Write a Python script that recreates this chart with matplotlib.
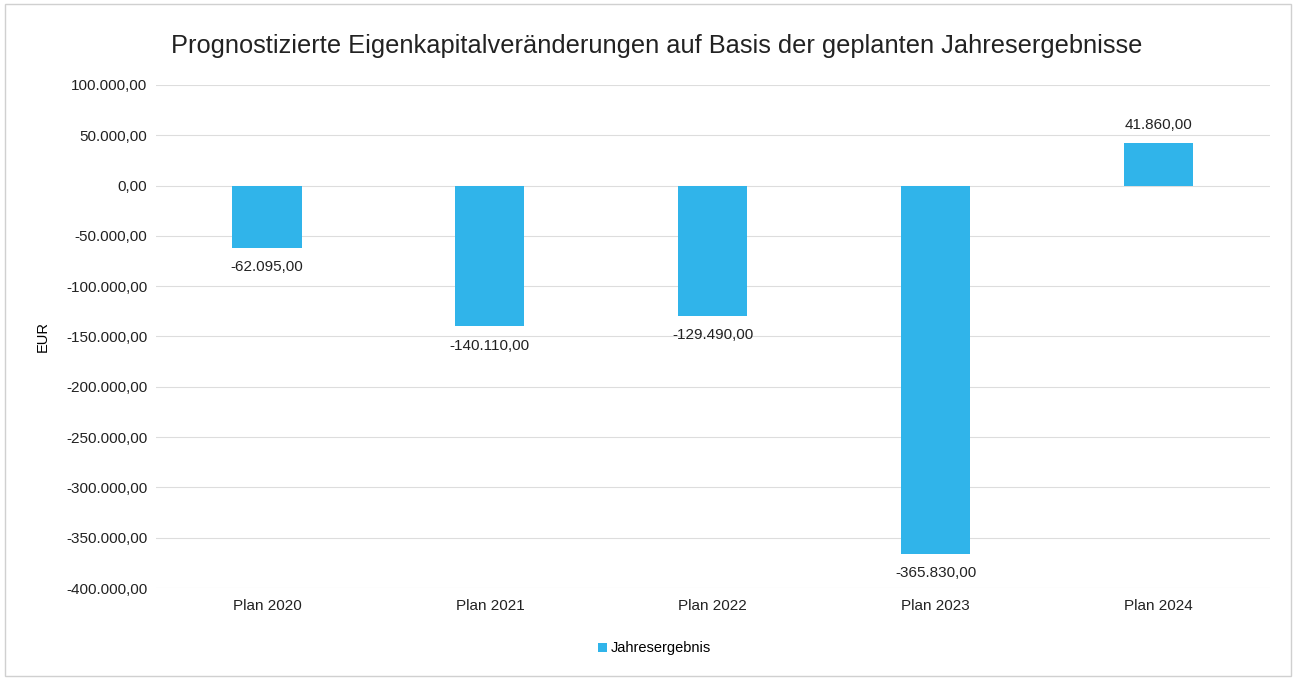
import matplotlib.pyplot as plt
from matplotlib.ticker import FuncFormatter

plt.rcParams['font.family'] = ['Liberation Sans', 'DejaVu Sans']

categories = ['Plan 2020', 'Plan 2021', 'Plan 2022', 'Plan 2023', 'Plan 2024']
values = [-62095.00, -140110.00, -129490.00, -365830.00, 41860.00]
series_name = 'Jahresergebnis'
bar_color = '#30b4ea'


def de_format(v, pos=None):
    s = f'{v:,.2f}'
    return s.replace(',', 'X').replace('.', ',').replace('X', '.')


fig = plt.figure(figsize=(12.96, 6.79), dpi=100)
ax = fig.add_axes([0.12, 0.134, 0.86, 0.741])

x = range(len(categories))
bars = ax.bar(x, values, width=0.31, color=bar_color, label=series_name, zorder=3)

for xi, v in zip(x, values):
    if v < 0:
        ax.annotate(de_format(v), (xi, v), xytext=(0, -9), textcoords='offset points',
                    ha='center', va='top', fontsize=11, color='#222222')
    else:
        ax.annotate(de_format(v), (xi, v), xytext=(0, 8), textcoords='offset points',
                    ha='center', va='bottom', fontsize=11, color='#222222')

ax.set_ylim(-400000, 100000)
ax.set_xlim(-0.5, len(categories) - 0.5)
ax.set_yticks(range(-400000, 100001, 50000))
ax.yaxis.set_major_formatter(FuncFormatter(de_format))
ax.set_xticks(list(x))
ax.set_xticklabels(categories)
ax.tick_params(axis='both', length=0, labelsize=11, colors='#222222')
ax.tick_params(axis='y', pad=6)
ax.tick_params(axis='x', pad=8)
ax.grid(axis='y', color='#dddddd', linewidth=0.8, zorder=0)
for sp in ax.spines.values():
    sp.set_visible(False)

ax.set_ylabel('EUR', fontsize=10.5, labelpad=12)
fig.suptitle('Prognostizierte Eigenkapitalveränderungen auf Basis der geplanten Jahresergebnisse',
             fontsize=18.3, y=0.95, x=0.507, color='#222222')

fig.legend(loc='center', bbox_to_anchor=(0.505, 0.045), frameon=False, fontsize=10.5,
           handlelength=0.6, handleheight=0.6, handletextpad=0.3)

fig.patches.append(plt.Rectangle((0.004, 0.004), 0.992, 0.99, transform=fig.transFigure,
                                 fill=False, edgecolor='#d0d0d0', linewidth=1))

fig.savefig('out.png', dpi=100)
